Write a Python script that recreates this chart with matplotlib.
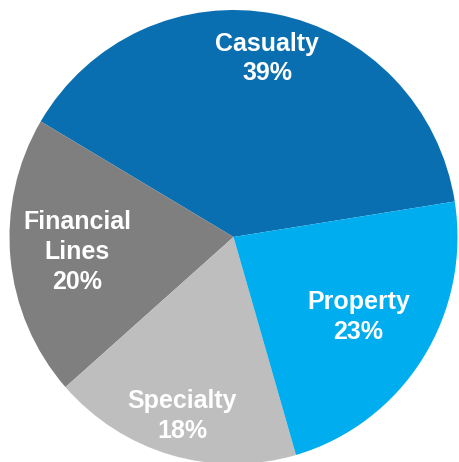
import numpy as np
import matplotlib.pyplot as plt

# segment shares, counter-clockwise from the right-hand edge
segments = ['Casualty', 'Financial\nLines', 'Specialty', 'Property']
shares = [39, 20, 18, 23]
colors = ['#0a6fb0', '#7f7f7f', '#bebebe', '#00aeef']
label_dist = [0.80, 0.70, 0.82, 0.66]

W, H = 459, 462
cx, cy = 233.5, 237
rx, ry = 224, 227

fig = plt.figure(figsize=(W / 100, H / 100), dpi=100)
ax = fig.add_axes([0, 0, 1, 1])

wedges, _ = ax.pie(shares, colors=colors, startangle=9, counterclock=True,
                   radius=1, wedgeprops=dict(linewidth=0))

for w, name, pct, d in zip(wedges, segments, shares, label_dist):
    mid = np.deg2rad((w.theta1 + w.theta2) / 2)
    ax.text(d * np.cos(mid), d * np.sin(mid), f'{name}\n{pct}%',
            ha='center', va='center', color='white', fontsize=18,
            fontweight='bold', family=['Liberation Sans', 'DejaVu Sans'],
            linespacing=1.3)

# pixel-matched limits so the circle sits where it should
ax.set_xlim(-cx / rx, (W - cx) / rx)
ax.set_ylim(-(H - cy) / ry, cy / ry)
ax.set_aspect('auto')
ax.axis('off')

fig.savefig('out.png', dpi=100, facecolor='white')
